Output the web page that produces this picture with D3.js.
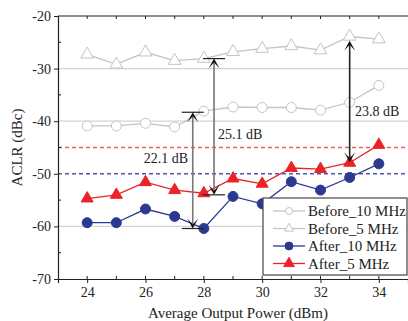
<!DOCTYPE html>
<html>
<head>
<meta charset="utf-8">
<script src="https://cdn.jsdelivr.net/npm/d3@7"></script>
<style>
  body { margin: 0; background: #fff; }
  text { font-family: "Liberation Serif", "DejaVu Serif", serif; fill: #222; }
</style>
</head>
<body>
<svg id="chart" width="408" height="321"></svg>
<script>
// chart values
const power = [24, 25, 26, 27, 28, 29, 30, 31, 32, 33, 34];
const before10 = [-40.9, -40.9, -40.4, -41.1, -38.1, -37.3, -37.4, -37.4, -37.9, -36.4, -33.2];
const before5 = [-27.3, -29.2, -26.9, -28.5, -28.1, -26.8, -26.2, -25.7, -26.5, -23.9, -24.4];
const after10 = [-59.3, -59.3, -56.7, -58.1, -60.4, -54.3, -55.7, -51.5, -53.1, -50.7, -48.1];
const after5 = [-54.7, -54.0, -51.6, -53.1, -53.7, -50.9, -51.9, -48.9, -49.1, -47.9, -44.5];
const xTicks = [24, 26, 28, 30, 32, 34];
const yTicks = [-20, -30, -40, -50, -60, -70];
const gridAt = [-30, -40, -60];
const limit10 = -50, limit5 = -45;
// annotations: x position, top value, bottom value, label
const annX = [27.62, 28.35, 33.0];
const annTop = [-38.3, -28.1, -24.7];
const annBot = [-60.4, -54.0, -47.8];
const annLabel = ["22.1 dB", "25.1 dB", "23.8 dB"];

const svg = d3.select("#chart");
const mLeft = 58, mRight = 408, mTop = 16, mBottom = 279;

const x = d3.scaleLinear().domain([23, 35]).range([mLeft, mRight]);
const y = d3.scaleLinear().domain([-70, -20]).range([mBottom, mTop]);

// grid
svg.selectAll(".grid").data(gridAt).enter().append("line")
  .attr("x1", mLeft).attr("x2", mRight)
  .attr("y1", d => y(d)).attr("y2", d => y(d))
  .attr("stroke", "#d4d4d4").attr("stroke-width", 1.2);

// limit lines
svg.append("line").attr("x1", mLeft).attr("x2", mRight)
  .attr("y1", y(limit5)).attr("y2", y(limit5))
  .attr("stroke", "#f25c5c").attr("stroke-width", 1.4).attr("stroke-dasharray", "4,3");
svg.append("line").attr("x1", mLeft).attr("x2", mRight)
  .attr("y1", y(limit10)).attr("y2", y(limit10))
  .attr("stroke", "#4d58b0").attr("stroke-width", 1.4).attr("stroke-dasharray", "4,3");

// axes
const yAxis = d3.axisLeft(y).tickValues(yTicks).tickSize(4).tickPadding(3);
const gy = svg.append("g").attr("transform", `translate(${mLeft},0)`).call(yAxis);
const yMinor = d3.range(-65, -20, 10);
svg.selectAll(".ymin").data(yMinor).enter().append("line")
  .attr("x1", mLeft).attr("x2", mLeft + 3)
  .attr("y1", d => y(d)).attr("y2", d => y(d)).attr("stroke", "#222");

const xAxis = d3.axisBottom(x).tickValues(xTicks).tickSize(4).tickPadding(4);
const gx = svg.append("g").attr("transform", `translate(0,${mBottom})`).call(xAxis);
const xAll = d3.range(24, 35, 1);
svg.selectAll(".xmin").data(xAll).enter().append("line")
  .attr("x1", d => x(d)).attr("x2", d => x(d))
  .attr("y1", mBottom).attr("y2", mBottom - 3).attr("stroke", "#222");
svg.selectAll(".xtop").data(xAll).enter().append("line")
  .attr("x1", d => x(d)).attr("x2", d => x(d))
  .attr("y1", mTop).attr("y2", mTop + 3).attr("stroke", "#222");
svg.append("line").attr("x1", mLeft).attr("x2", mRight).attr("y1", mTop).attr("y2", mTop)
  .attr("stroke", "#222").attr("stroke-width", 1.2);

[gx, gy].forEach(g => {
  g.select(".domain").attr("stroke", "#222").attr("stroke-width", 1.2);
  g.selectAll(".tick line").attr("stroke", "#222");
  g.selectAll("text").style("font-family", "Liberation Serif").style("font-size", "14px").attr("fill", "#333");
});
gy.selectAll("text").text(d => "-" + Math.abs(d));

// axis titles
svg.append("text").attr("x", (mLeft + mRight) / 2 + 5).attr("y", 318)
  .attr("text-anchor", "middle").style("font-size", "15px").text("Average Output Power (dBm)");
svg.append("text").attr("transform", `translate(22,${(mTop + mBottom) / 2}) rotate(-90)`)
  .attr("text-anchor", "middle").style("font-size", "15px").text("ACLR (dBc)");

// series
const line = vals => d3.line().x((d, i) => x(power[i])).y(d => y(d))(vals);
const tri = d3.symbol().type(d3.symbolTriangle).size(62);
const triSmall = d3.symbol().type(d3.symbolTriangle).size(70);

function drawSeries(vals, color, marker, fill) {
  svg.append("path").attr("d", line(vals)).attr("fill", "none")
    .attr("stroke", color).attr("stroke-width", 1.3);
  const g = svg.append("g");
  vals.forEach((v, i) => {
    if (marker === "circle") {
      g.append("circle").attr("cx", x(power[i])).attr("cy", y(v)).attr("r", 5)
        .attr("fill", fill).attr("stroke", color).attr("stroke-width", 1);
    } else {
      g.append("path").attr("d", fill === "#fff" ? triSmall() : tri())
        .attr("transform", `translate(${x(power[i])},${y(v)})`)
        .attr("fill", fill).attr("stroke", color).attr("stroke-width", 1);
    }
  });
}

drawSeries(before10, "#c4c4c4", "circle", "#fff");
drawSeries(before5, "#c4c4c4", "triangle", "#fff");
drawSeries(after5, "#ec2229", "triangle", "#ec2229");
drawSeries(after10, "#2b3990", "circle", "#2b3990");

// annotations
const annColor = ["#777", "#777", "#222"];
const bars = [true, true, false];
function head(xp, yp, dir) {
  // dir: -1 points up, 1 points down
  const w = 5.5, h = 10, n = 4;
  svg.append("path")
    .attr("d", `M${xp},${yp} L${xp - w},${yp - dir * h} L${xp},${yp - dir * n} L${xp + w},${yp - dir * h} Z`)
    .attr("fill", "#111");
}
annX.forEach((a, i) => {
  const xp = x(a), y1 = y(annTop[i]), y2 = y(annBot[i]);
  svg.append("line").attr("x1", xp).attr("x2", xp).attr("y1", y1 + 4).attr("y2", y2 - 4)
    .attr("stroke", annColor[i]).attr("stroke-width", 1.6);
  head(xp, y1, -1);
  head(xp, y2, 1);
  if (bars[i]) {
    [y1, y2].forEach(yy => svg.append("line").attr("x1", xp - 11).attr("x2", xp + 11)
      .attr("y1", yy).attr("y2", yy).attr("stroke", "#222").attr("stroke-width", 1.2));
  }
});
svg.append("text").attr("x", 166).attr("y", 163).attr("text-anchor", "middle")
  .style("font-size", "14px").text(annLabel[0]);
svg.append("text").attr("x", 218).attr("y", 139).style("font-size", "14px").text(annLabel[1]);
svg.append("text").attr("x", 355).attr("y", 116).style("font-size", "14px").text(annLabel[2]);

// legend
const legNames = ["Before_10 MHz", "Before_5 MHz", "After_10 MHz", "After_5 MHz"];
const legColor = ["#c4c4c4", "#c4c4c4", "#2b3990", "#ec2229"];
const legFill = ["#fff", "#fff", "#2b3990", "#ec2229"];
const legMark = ["circle", "triangle", "circle", "triangle"];
const lg = svg.append("g").attr("transform", "translate(263,198)");
lg.append("rect").attr("width", 144).attr("height", 77)
  .attr("fill", "#fff").attr("stroke", "#444").attr("stroke-width", 1.2);
legNames.forEach((n, i) => {
  const yy = 13 + i * 17.5;
  lg.append("line").attr("x1", 10).attr("x2", 42).attr("y1", yy).attr("y2", yy)
    .attr("stroke", legColor[i]).attr("stroke-width", 1.3);
  if (legMark[i] === "circle") {
    lg.append("circle").attr("cx", 26).attr("cy", yy).attr("r", i === 0 ? 3.5 : 4)
      .attr("fill", legFill[i]).attr("stroke", legColor[i]);
  } else {
    lg.append("path").attr("d", d3.symbol().type(d3.symbolTriangle).size(i === 1 ? 35 : 50)())
      .attr("transform", `translate(26,${yy})`)
      .attr("fill", legFill[i]).attr("stroke", legColor[i]);
  }
  lg.append("text").attr("x", 45).attr("y", yy + 5).style("font-size", "15px").text(n);
});
</script>
</body>
</html>
